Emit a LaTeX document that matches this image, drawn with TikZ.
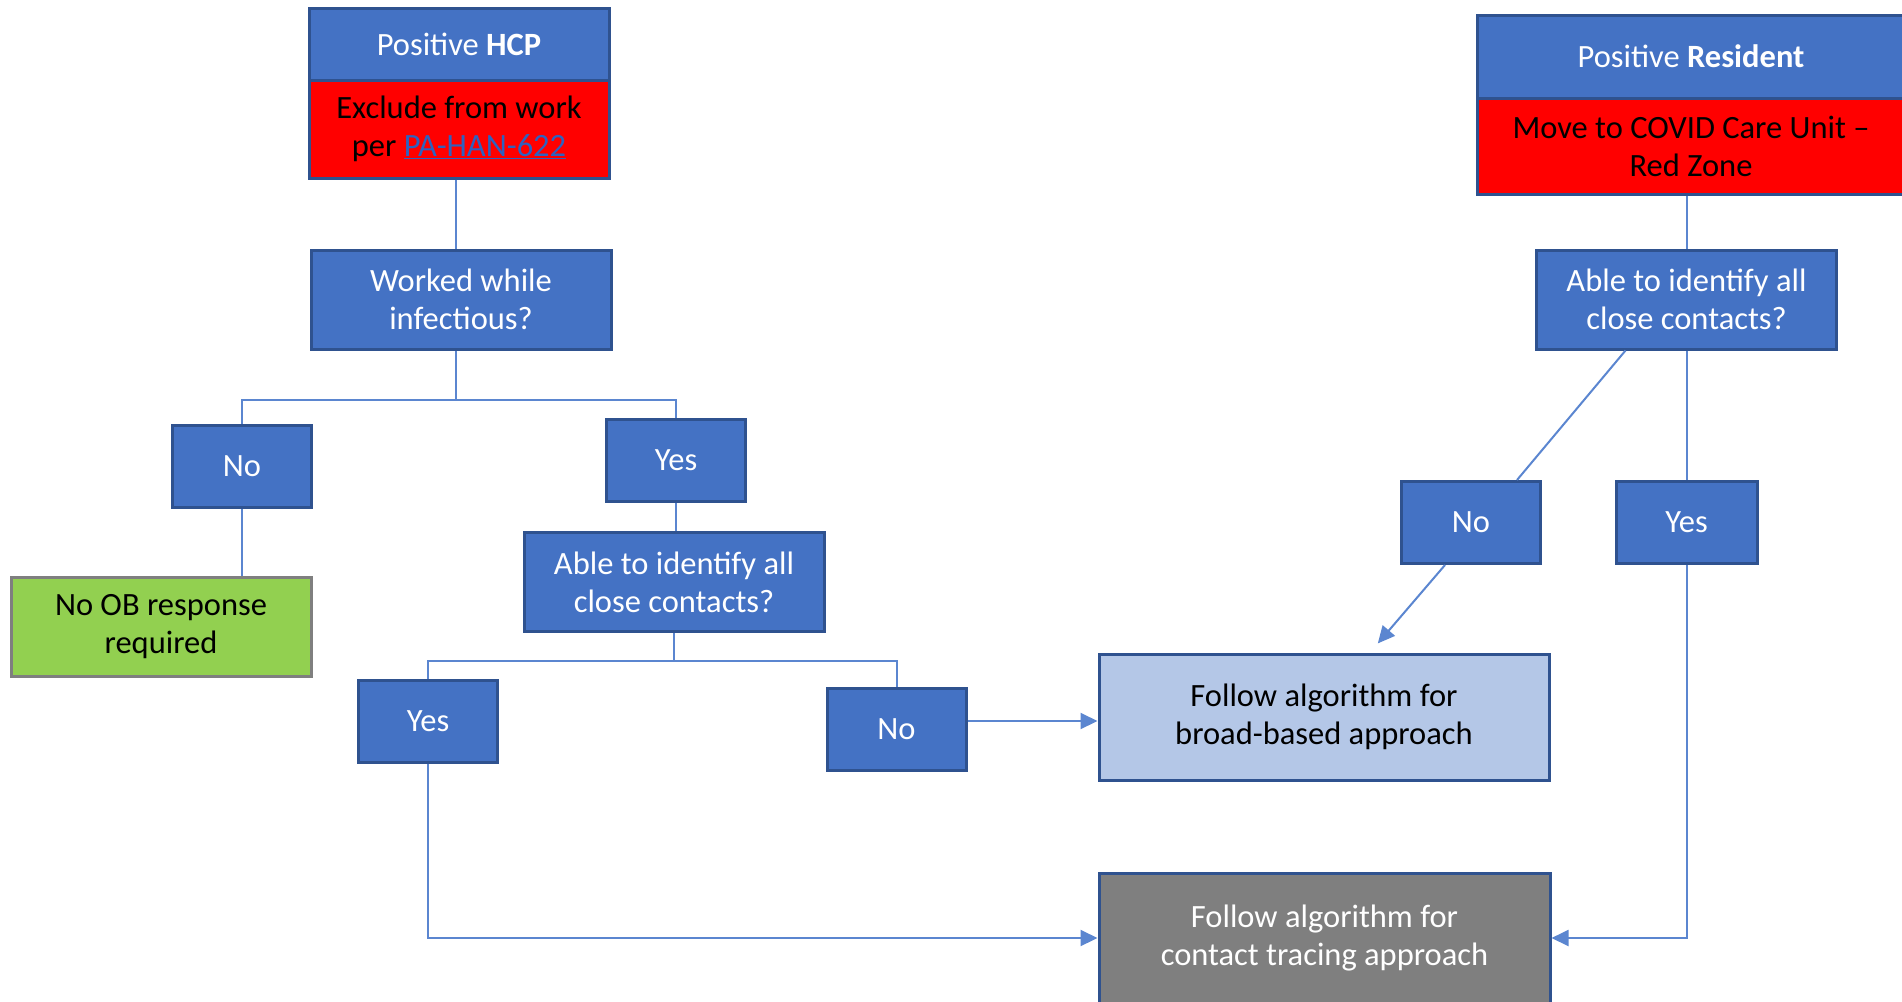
\documentclass[tikz,border=0pt]{standalone}
\usepackage{fontspec}
\setmainfont{Carlito}
\usepackage{tikz}
\usetikzlibrary{positioning,arrows.meta,calc}
\definecolor{officeblue}{HTML}{4472C4}
\definecolor{darkedge}{HTML}{2F528F}
\definecolor{linkblue}{HTML}{2E62C0}
\definecolor{officegreen}{HTML}{92D050}
\definecolor{paleblue}{HTML}{B4C7E7}
\definecolor{midgrey}{HTML}{7F7F7F}
\definecolor{wire}{HTML}{5B86D0}

\begin{document}
\begin{tikzpicture}[x=1pt, y=-1pt,
        every node/.style={font=\fontsize{32.5}{38}\selectfont, align=center, inner sep=0pt},
        bluebox/.style={rectangle, draw=darkedge, line width=3pt, fill=officeblue, text=white},
        redbox/.style={rectangle, draw=darkedge, line width=3pt, fill=red, text=black},
        greenbox/.style={rectangle, draw=midgrey, line width=3pt, fill=officegreen, text=black},
        palebox/.style={rectangle, draw=darkedge, line width=3pt, fill=paleblue, text=black},
        greybox/.style={rectangle, draw=darkedge, line width=3pt, fill=midgrey, text=white},
        small/.style={minimum width=139pt, minimum height=82pt},
        wide/.style={minimum width=300pt, minimum height=99pt},
        link/.style={draw=wire, line width=2pt},
        arr/.style={link, -{Triangle[length=17pt, width=16pt]}}]

            \useasboundingbox (0,0) rectangle (1902,1001);

            \node[bluebox, minimum width=300pt, minimum height=72pt] (hcp) at (459,44) {Positive \textbf{HCP}};
            \node[redbox, minimum width=300pt, minimum height=98pt] (hcpx) at (459,129)
                {Exclude from work\\per \textcolor{linkblue}{\underline{PA-HAN-622}}};
            \node[bluebox, wide] (worked) at (461,299.5) {Worked while\\infectious?};
            \node[bluebox, small] (noA) at (242,466.5) {No};
            \node[bluebox, small] (yesA) at (676,460.5) {Yes};
            \node[greenbox, wide] (nob) at (161,626.5) {No OB response\\required};
            \node[bluebox, wide] (ablemid) at (674,582) {Able to identify all\\close contacts?};
            \node[bluebox, small] (yesB) at (428,721) {Yes};
            \node[bluebox, small] (noB) at (896.5,729) {No};

            \node[palebox, minimum width=450pt, minimum height=126pt] (broad) at (1324,717)
                {Follow algorithm for\\broad-based approach};
            \node[greybox, minimum width=451pt, minimum height=130pt] (contact) at (1324.5,938)
                {Follow algorithm for\\contact tracing approach};

            \node[bluebox, minimum width=428pt, minimum height=83pt] (res) at (1691,56.5) {Positive \textbf{Resident}};
            \node[redbox, minimum width=428pt, minimum height=96pt] (resx) at (1691,146)
                {Move to COVID Care Unit --\\Red Zone};
            \node[bluebox, wide] (ableR) at (1686.5,299.5) {Able to identify all\\close contacts?};
            \node[bluebox, small] (noC) at (1471,522.5) {No};
            \node[bluebox, small, minimum width=141pt] (yesC) at (1686.5,522.5) {Yes};

            \coordinate (splitA) at (456,400);
            \coordinate (splitB) at (674,661);

            \draw[link] (hcpx.south -| splitA) -- (worked.north -| splitA);
            \draw[link] (worked.south -| splitA) -- (splitA) -| (noA);
            \draw[link] (splitA) -| (yesA);
            \draw[link] (noA.south) -- (noA.south |- nob.north);
            \draw[link] (yesA.south) -- (yesA.south |- ablemid.north);
            \draw[link] (ablemid) -- (splitB) -| (yesB);
            \draw[link] (splitB) -| (noB);
            \draw[arr] ($(noB.east)+(0,-8)$) -- ($(noB.east -| broad.west)+(0,-8)$);
            \draw[arr] (yesB.south) |- (contact.west);

            \draw[link] (resx.south -| ableR.north) -- (ableR.north);
            \draw[link] (ableR.south) ++(-61,0) -- ($(noC.north)+(46,0)$);
            \draw[link] (ableR) -- (yesC);
            \draw[arr, shorten >=12pt] ($(noC.south)+(-26,0)$) -- ($(broad.north)+(46,0)$);
            \draw[arr] (yesC.south) |- (contact.east);

        \end{tikzpicture}
\end{document}
